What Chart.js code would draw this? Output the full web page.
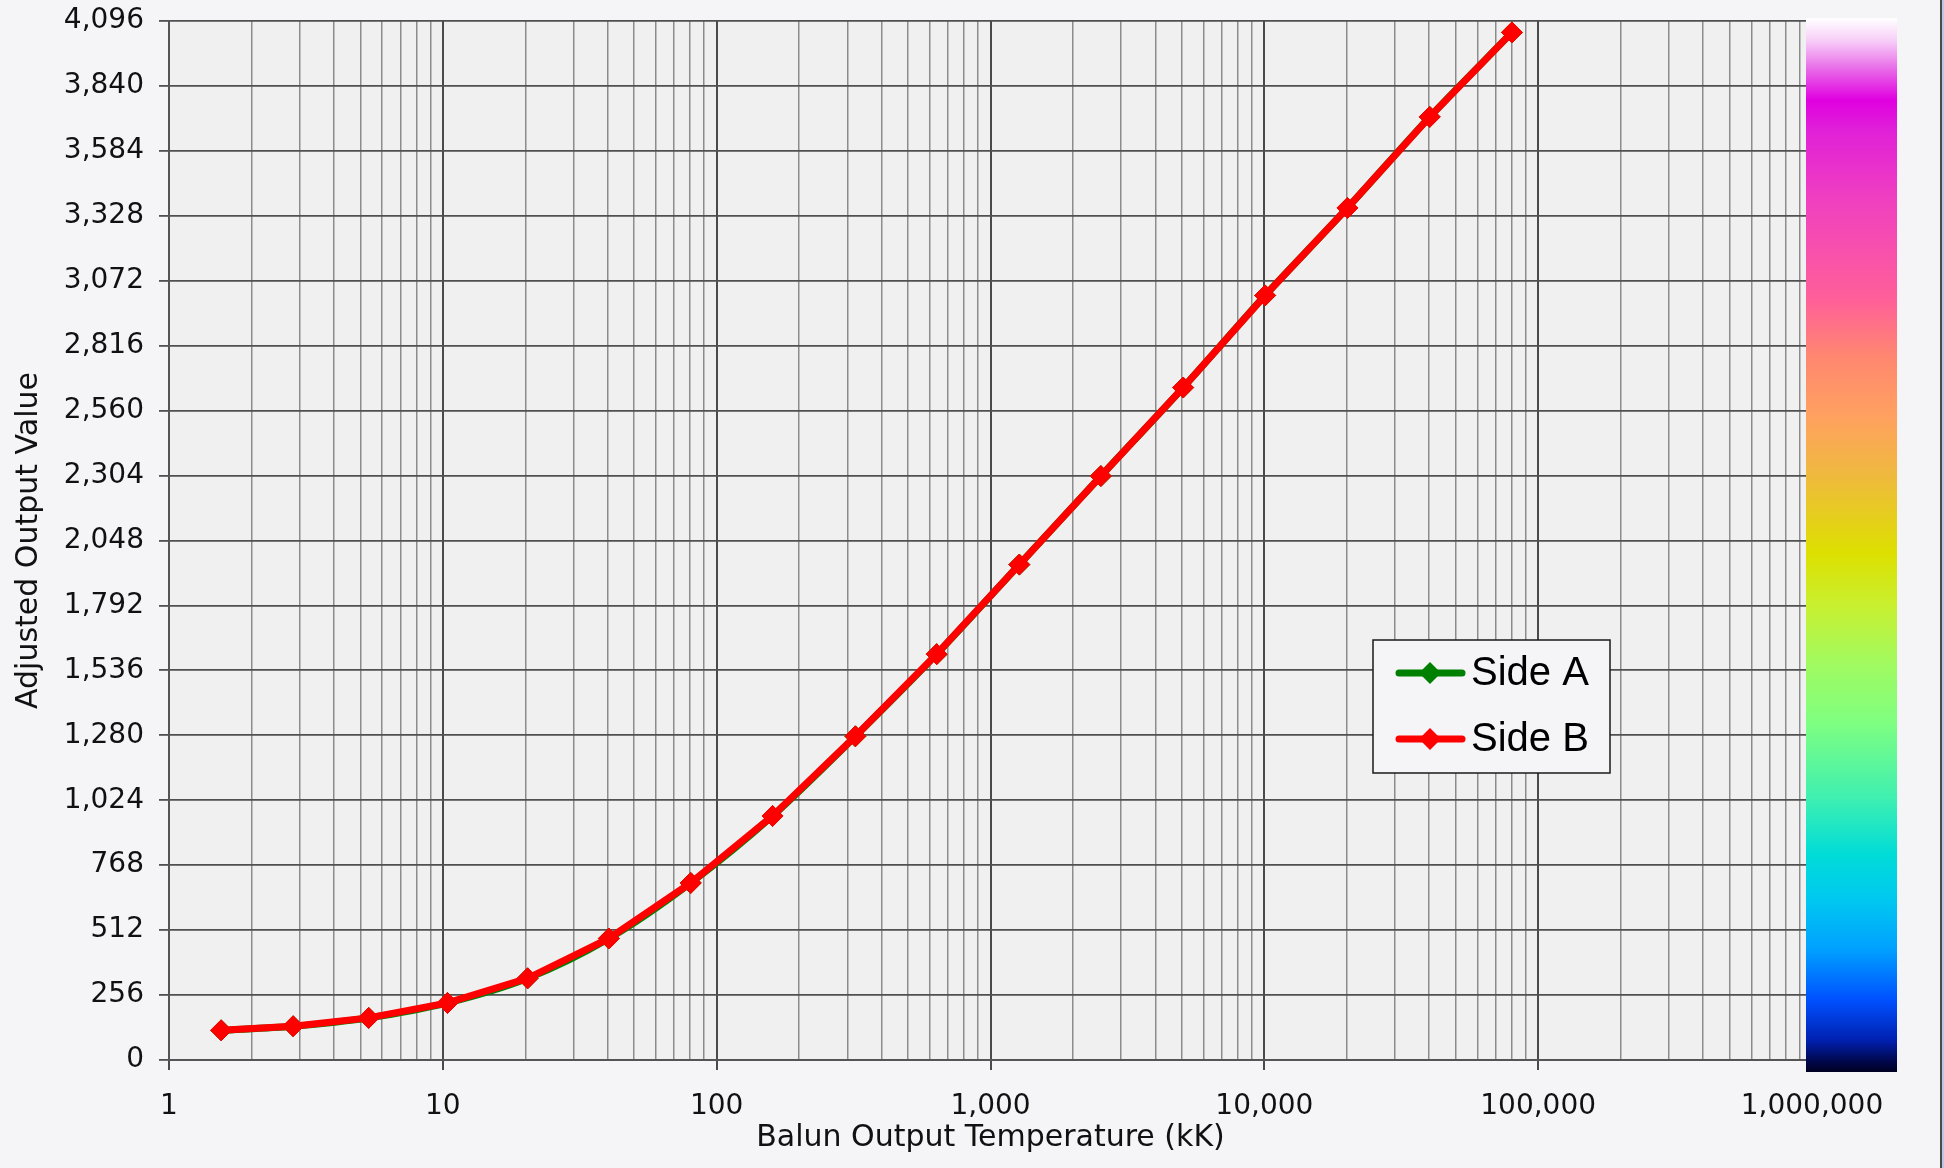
<!DOCTYPE html>
<html>
<head>
<meta charset="utf-8">
<script src="https://cdn.jsdelivr.net/npm/chart.js@4.4.1/dist/chart.umd.min.js"></script>
<style>
  html, body { margin: 0; padding: 0; background: #f5f5f7; }
  #wrap { width: 1944px; height: 1168px; position: relative; }
</style>
</head>
<body>
<div id="wrap"><canvas id="c"></canvas></div>
<script>
// Balun output temperature (kK) for each calibration step
const temperatureKK = [1.55, 2.84, 5.36, 10.4, 20.4, 40.4, 80.4, 160, 321, 636, 1274, 2529, 5053, 10067, 20120, 40180, 80220];
// Adjusted output value per side
const sideA = [117, 133, 166, 225, 322, 479, 698, 962, 1276, 1600, 1953, 2302, 2651, 3014, 3359, 3718, 4051];
const sideB = [117, 133, 166, 225, 322, 479, 698, 962, 1276, 1600, 1953, 2302, 2651, 3014, 3359, 3718, 4051];

// Axis ticks
const xDecades = [1, 10, 100, 1000, 10000, 100000, 1000000];
const xDecadeLabels = ['1', '10', '100', '1,000', '10,000', '100,000', '1,000,000'];
const yTicks = [0, 256, 512, 768, 1024, 1280, 1536, 1792, 2048, 2304, 2560, 2816, 3072, 3328, 3584, 3840, 4096];

// Colour ramp shown down the right-hand side (fraction from bottom, colour)
const rampStops = [
  [0.000, '#000020'], [0.011, '#000850'], [0.030, '#0020b0'], [0.068, '#0050ff'],
  [0.116, '#00a0ff'], [0.163, '#00c8f0'], [0.206, '#00dcd8'], [0.261, '#40f0b0'],
  [0.333, '#80ff80'], [0.387, '#a0fa60'], [0.442, '#c8f030'], [0.492, '#dde000'],
  [0.569, '#f0b840'], [0.623, '#ffa060'], [0.678, '#ff8870'], [0.732, '#ff6098'],
  [0.827, '#f040c0'], [0.894, '#e020d8'], [0.922, '#e000e0'], [0.951, '#e868e8'],
  [0.979, '#f8d0f8'], [1.000, '#ffffff']
];

// log grid: 1..9 within every decade
const xGrid = [];
for (let d = 0; d < xDecades.length - 1; d++) {
  for (let m = 1; m <= 9; m++) xGrid.push(m * xDecades[d]);
}
xGrid.push(xDecades[xDecades.length - 1]);

const isDecade = v => xDecades.indexOf(v) !== -1;

const pageBg = '#f5f5f7';
const plotBg = '#f0f0f0';

const backgroundPlugin = {
  id: 'backgrounds',
  beforeDraw(chart) {
    const { ctx, chartArea: a } = chart;
    ctx.save();
    ctx.fillStyle = pageBg;
    ctx.fillRect(0, 0, chart.width, chart.height);
    ctx.fillStyle = plotBg;
    ctx.fillRect(a.left, a.top, a.right - a.left, a.bottom - a.top);
    ctx.restore();
  }
};

const overlayPlugin = {
  id: 'overlay',
  afterDraw(chart) {
    const { ctx, chartArea: a } = chart;
    ctx.save();

    // colour ramp
    const rx = a.right - 6, rw = 91, rt = a.top - 3, rb = a.bottom + 12;
    const g = ctx.createLinearGradient(0, rb, 0, rt);
    rampStops.forEach(([f, c]) => g.addColorStop(f, c));
    ctx.fillStyle = g;
    ctx.fillRect(rx, rt, rw, rb - rt);

    // legend box
    const lx = 1373, ly = 640, lw = 237, lh = 133;
    ctx.fillStyle = pageBg;
    ctx.fillRect(lx, ly, lw, lh);
    ctx.strokeStyle = '#1a1a1a';
    ctx.lineWidth = 1.5;
    ctx.strokeRect(lx, ly, lw, lh);
    chart.data.datasets.forEach((ds, i) => {
      const cy = ly + 33 + i * 66;
      ctx.strokeStyle = ds.borderColor;
      ctx.lineWidth = 7;
      ctx.lineCap = 'round';
      ctx.beginPath();
      ctx.moveTo(lx + 26, cy);
      ctx.lineTo(lx + 89, cy);
      ctx.stroke();
      ctx.fillStyle = ds.borderColor;
      ctx.beginPath();
      const r = 11, cx = lx + 57;
      ctx.moveTo(cx - r, cy); ctx.lineTo(cx, cy - r); ctx.lineTo(cx + r, cy); ctx.lineTo(cx, cy + r);
      ctx.closePath();
      ctx.fill();
      ctx.fillStyle = '#000';
      ctx.font = '40px "Liberation Sans", Arial, sans-serif';
      ctx.textAlign = 'left';
      ctx.textBaseline = 'middle';
      ctx.fillText(ds.label, lx + 98, cy + 1);
    });

    // window frame at the right edge
    ctx.fillStyle = '#4a4a4a';
    ctx.fillRect(chart.width - 4, 0, 2, chart.height);
    ctx.fillStyle = '#b8c8e8';
    ctx.fillRect(chart.width - 2, 0, 2, chart.height);
    ctx.restore();
  }
};

const tickFont = { family: '"DejaVu Sans", Verdana, sans-serif', size: 28 };
const titleFont = { family: '"DejaVu Sans", Verdana, sans-serif', size: 30 };

new Chart(document.getElementById('c'), {
  type: 'line',
  data: {
    datasets: [
      {
        label: 'Side A',
        data: temperatureKK.map((x, i) => ({ x, y: sideA[i] })),
        borderColor: '#008000',
        backgroundColor: '#008000',
        borderWidth: 7,
        tension: 0.3,
        pointStyle: 'rectRot',
        pointRadius: 10.5,
        pointBorderWidth: 1,
        order: 2
      },
      {
        label: 'Side B',
        data: temperatureKK.map((x, i) => ({ x, y: sideB[i] })),
        borderColor: '#ff0000',
        backgroundColor: '#ff0000',
        borderWidth: 7,
        tension: 0,
        pointStyle: 'rectRot',
        pointRadius: 10.5,
        pointBorderWidth: 1,
        order: 1
      }
    ]
  },
  options: {
    responsive: true,
    maintainAspectRatio: false,
    animation: false,
    devicePixelRatio: 1,
    layout: { padding: { left: 0, top: 21, right: 132, bottom: 0 } },
    plugins: { legend: { display: false }, tooltip: { enabled: false } },
    scales: {
      x: {
        type: 'logarithmic',
        min: 1,
        max: 1000000,
        afterBuildTicks: s => { s.ticks = xGrid.map(v => ({ value: v, major: isDecade(v) })); },
        afterFit: s => { s.height = 108; s.paddingLeft = 0; s.paddingRight = 0; },
        ticks: {
          autoSkip: false,
          maxRotation: 0,
          padding: 20,
          color: '#111',
          font: tickFont,
          callback: v => { const k = xDecades.indexOf(v); return k === -1 ? '' : xDecadeLabels[k]; }
        },
        grid: {
          color: c => (c.tick && isDecade(c.tick.value)) ? '#4a4a4a' : '#8c8c8c',
          lineWidth: c => (c.tick && isDecade(c.tick.value)) ? 2 : 1.5,
          tickLength: 10,
          tickColor: c => (c.tick && isDecade(c.tick.value)) ? '#4a4a4a' : 'rgba(0,0,0,0)',
          tickWidth: 2
        },
        border: { display: true, color: '#555', width: 2 },
        title: {
          display: true,
          text: 'Balun Output Temperature (kK)',
          color: '#111',
          font: titleFont,
          padding: { top: 0, bottom: 12 }
        }
      },
      y: {
        type: 'linear',
        min: 0,
        max: 4096,
        afterBuildTicks: s => { s.ticks = yTicks.map(v => ({ value: v })); },
        afterFit: s => { s.width = 169; s.paddingTop = 0; s.paddingBottom = 0; },
        ticks: {
          padding: 15,
          color: '#111',
          font: tickFont,
          callback: v => v.toLocaleString('en-US')
        },
        grid: { color: '#505050', lineWidth: 1.8, tickLength: 10, tickColor: '#505050' },
        border: { display: true, color: '#555', width: 2 },
        title: {
          display: true,
          text: 'Adjusted Output Value',
          color: '#111',
          font: titleFont,
          padding: { top: 11, bottom: 0 }
        }
      }
    }
  },
  plugins: [backgroundPlugin, overlayPlugin]
});
</script>
</body>
</html>
